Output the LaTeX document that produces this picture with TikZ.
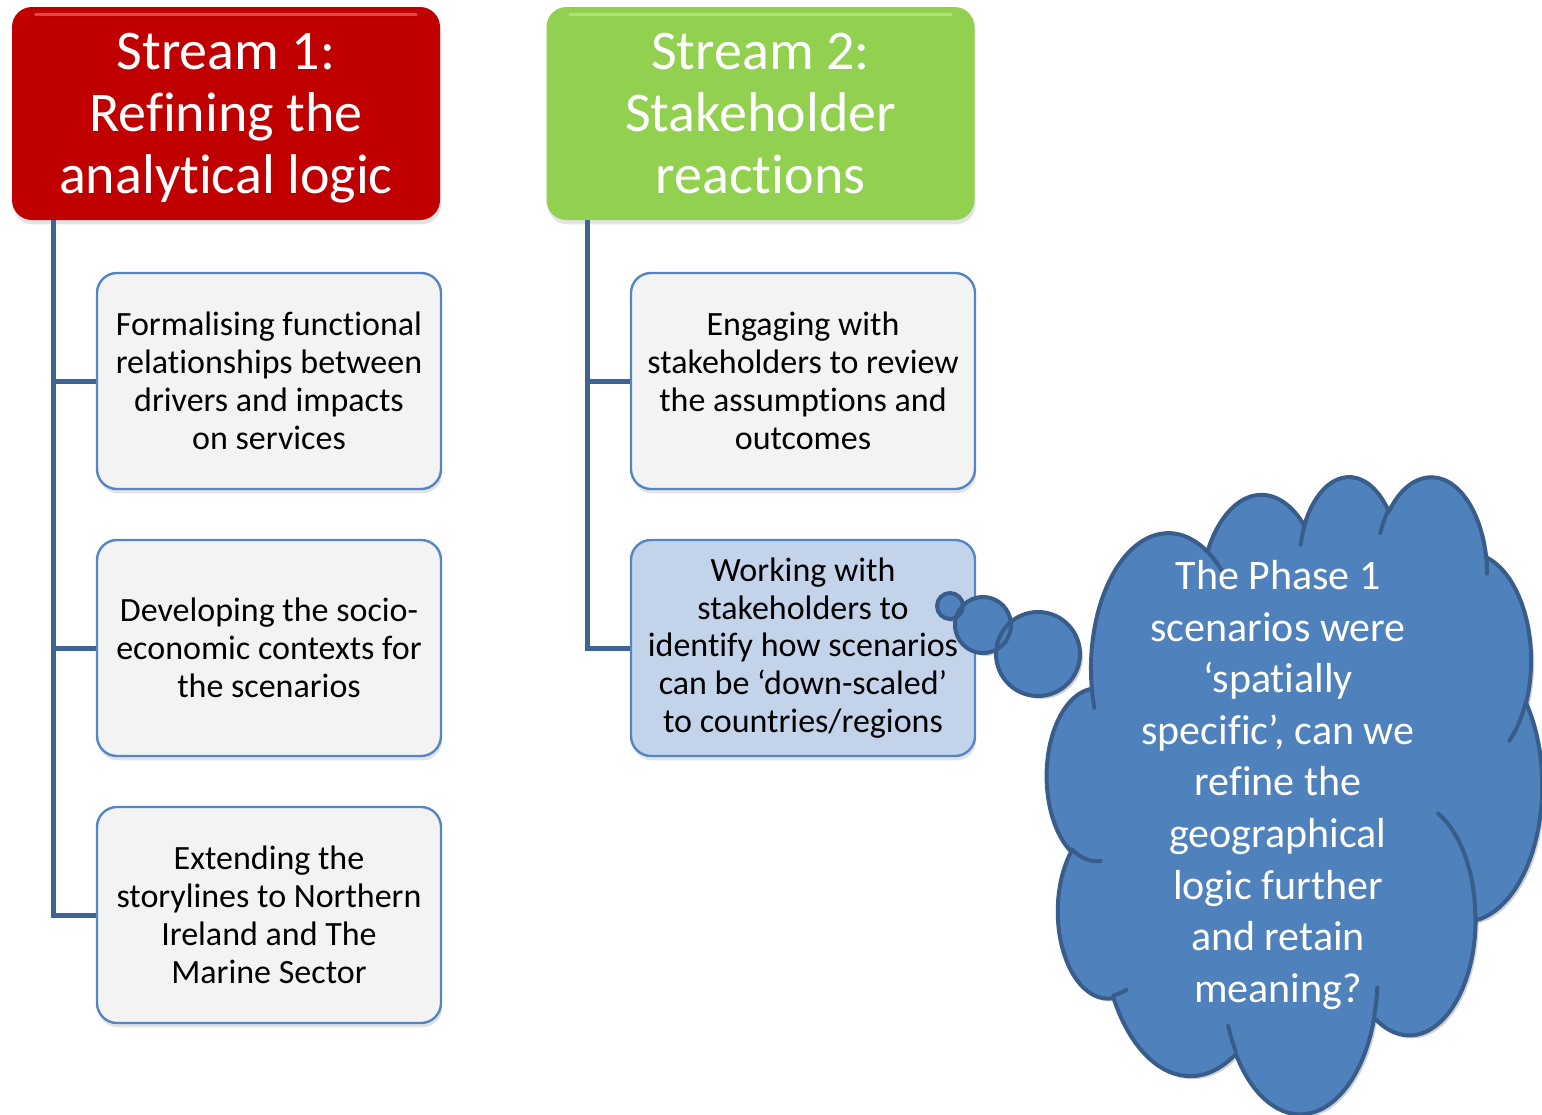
\documentclass[tikz,border=0pt]{standalone}
\usepackage{fontspec}
\setmainfont{Carlito}[Ligatures=NoCommon]
\usetikzlibrary{shadows}
\definecolor{hred}{RGB}{192,0,0}
\definecolor{hgreen}{RGB}{146,208,80}
\definecolor{boxfill}{RGB}{243,243,243}
\definecolor{boxline}{RGB}{84,134,196}
\definecolor{boxblue}{RGB}{195,211,233}
\definecolor{conncol}{RGB}{62,100,150}
\definecolor{cloudfill}{RGB}{79,129,189}
\definecolor{cloudline}{RGB}{56,93,138}
% OOXML arcTo (visual angles) -> TikZ parametric arc style
\newcommand\defooarc[5]{%
  \pgfmathsetmacro\ooS{atan2((#2)*sin(#4),(#3)*cos(#4))}%
  \pgfmathsetmacro\ooE{atan2((#2)*sin((#4)+(#5)),(#3)*cos((#4)+(#5)))}%
  \pgfmathsetmacro\ooD{\ooE-\ooS}%
  \pgfmathsetmacro\ooD{(\ooD<0)*360+\ooD}%
  \edef\ootemp{\noexpand\tikzset{#1/.style={x radius=#2,y radius=#3,start angle=\ooS,delta angle=\ooD}}}%
  \ootemp}
% outline arcs
\defooarc{ca1}{67.53}{91.90}{-190.48748}{123.78053}
\defooarc{ca2}{53.33}{72.67}{-144.10238}{89.94523}
\defooarc{ca3}{43.65}{59.45}{-145.80792}{99.72302}
\defooarc{ca4}{48.57}{65.95}{-130.98607}{117.24173}
\defooarc{ca5}{53.33}{72.73}{-78.70888}{109.02692}
\defooarc{ca6}{67.75}{92.20}{-46.26725}{130.26900}
\defooarc{ca7}{57.85}{78.67}{0.62502}{114.03333}
\defooarc{ca8}{67.52}{92.15}{22.45160}{115.17255}
\defooarc{ca9}{77.20}{105.43}{66.24263}{75.71102}
\defooarc{ca10}{43.60}{59.18}{-274.94208}{146.73557}
\defooarc{ca11}{43.45}{59.45}{-246.82850}{152.52533}
% inner arcs
\defooarc{ci1}{43.45}{59.45}{86.74200}{26.42950}
\defooarc{ci2}{43.60}{59.18}{73.61047}{11.44747}
\defooarc{ci3}{67.52}{92.15}{137.62415}{14.08110}
\defooarc{ci4}{67.52}{92.15}{6.45327}{15.99835}
\defooarc{ci5}{57.85}{78.67}{-70.29235}{70.91737}
\defooarc{ci6}{53.33}{72.73}{30.31803}{27.75150}
\defooarc{ci7}{48.57}{65.95}{-13.74433}{14.85890}
\defooarc{ci8}{48.57}{65.95}{-149.18145}{18.19537}
\defooarc{ci9}{43.65}{59.45}{-163.49427}{17.68635}
\defooarc{ci10}{67.53}{91.90}{-66.70695}{12.31935}
\defooarc{ci11}{67.53}{91.90}{157.65435}{11.85817}
\newcommand\cloudoutline{(39.00,143.70) arc[ca1] arc[ca2] arc[ca3] arc[ca4] arc[ca5] arc[ca6] arc[ca7] arc[ca8] arc[ca9] arc[ca10] arc[ca11] -- cycle}
\begin{document}
\begin{tikzpicture}[x=0.5pt,y=-0.5pt,
  header/.style={rectangle, rounded corners=10pt, minimum width=214pt, minimum height=106.5pt,
    text=white, align=center, font=\fontsize{28pt}{31pt}\selectfont, inner sep=0pt,
    drop shadow={opacity=0.22, shadow xshift=0.6pt, shadow yshift=-2.2pt}},
  gloss/.style={draw=white, opacity=0.3, line width=1.6pt, line cap=round},
  childbox/.style={rectangle, rounded corners=10pt, minimum width=172pt, minimum height=108pt,
    fill=boxfill, draw=boxline, line width=1.2pt, align=center, inner sep=0pt,
    font=\fontsize{17pt}{18.9pt}\selectfont,
    drop shadow={opacity=0.22, shadow xshift=0.6pt, shadow yshift=-2.2pt}},
  conn/.style={draw=conncol, line width=2.5pt, line join=miter},
  bubble/.style={circle, fill=cloudfill, inner sep=0pt},
  bubbleline/.style={draw=cloudline, line width=2pt},
  cloudtxt/.style={text=white, align=center, font=\fontsize{21pt}{25.8pt}\selectfont}
]
\useasboundingbox (0,0) rectangle (1542,1114);

% headers
\node[header, fill=hred] (h1) at (226,113.5) {Stream 1:\\Refining the\\anal\smash{y}tical lo\smash{g}ic};
\node[header, fill=hgreen] (h2) at (760.5,113.5) {Stream 2:\\Stakeholder\\reactions};
\draw[gloss] ([xshift=12pt,yshift=-4pt]h1.north west) -- ([xshift=-12pt,yshift=-4pt]h1.north east);
\draw[gloss] ([xshift=12pt,yshift=-4pt]h2.north west) -- ([xshift=-12pt,yshift=-4pt]h2.north east);

% child boxes
\node[childbox] (a1) at (269,381) {Formalising functional\\relationships between\\drivers and impacts\\on services};
\node[childbox] (a2) at (269,648) {Developing the socio-\\economic contexts for\\the scenarios};
\node[childbox] (a3) at (269,915) {Extending the\\storylines to Northern\\Ireland and The\\Marine Sector};
\node[childbox] (b1) at (803,381) {Engaging with\\stakeholders to review\\the assumptions and\\outcomes};
\node[childbox, fill=boxblue] (b2) at (803,648) {Working with\\stakeholders to\\identify how scenarios\\can be ‘down-scaled’\\to countries/regions};

% connectors
\coordinate (s1) at ([xshift=21pt]h1.south west);
\coordinate (s2) at ([xshift=20.5pt]h2.south west);
\draw[conn] (s1) |- (a1.west);
\draw[conn] (s1) |- (a2.west);
\draw[conn] (s1) |- (a3.west);
\draw[conn] (s2) |- (b1.west);
\draw[conn] (s2) |- (b2.west);

% thought bubbles
\fill[black, opacity=0.18] (953,609) circle (13) (986,628) circle (28) (1041,657) circle (42);
\node[bubble, minimum size=13pt] (t1) at (950,606) {};
\node[bubble, minimum size=28pt] (t2) at (983,625) {};
\node[bubble, minimum size=42pt] (t3) at (1038,654) {};
\draw[bubbleline] (t1.center) circle (13) (t2.center) circle (28) (t3.center) circle (42);

% cloud
\begin{scope}[shift={(1050,478)}, xscale=1.1458, yscale=1.4745]
  \fill[black, opacity=0.18] \cloudoutline;
\end{scope}
\begin{scope}[shift={(1047,475)}, xscale=1.1458, yscale=1.4745]
  \path[fill=cloudfill, draw=cloudline, line width=2pt, line join=round] \cloudoutline;
  \draw[cloudline, line width=2pt, line cap=round]
    (46.93,261.77) arc[ci1]
    (69.28,348.99) arc[ci2]
    (164.78,390.90) arc[ci3]
    (288.27,347.51) arc[ci4]
    (341.29,229.54) arc[ci5]
    (417.98,153.54) arc[ci6]
    (383.24,54.26) arc[ci7]
    (290.78,39.52) arc[ci8]
    (221.41,47.20) arc[ci9]
    (140.00,51.92) arc[ci10]
    (41.27,157.89) arc[ci11];
\end{scope}
\node[cloudtxt] (ct) at (1278,785) {The Phase 1\\scenarios were\\‘spatially\\specific’, can we\\refine the\\geographical\\logic further\\and retain\\meaning?};
\end{tikzpicture}
\end{document}
